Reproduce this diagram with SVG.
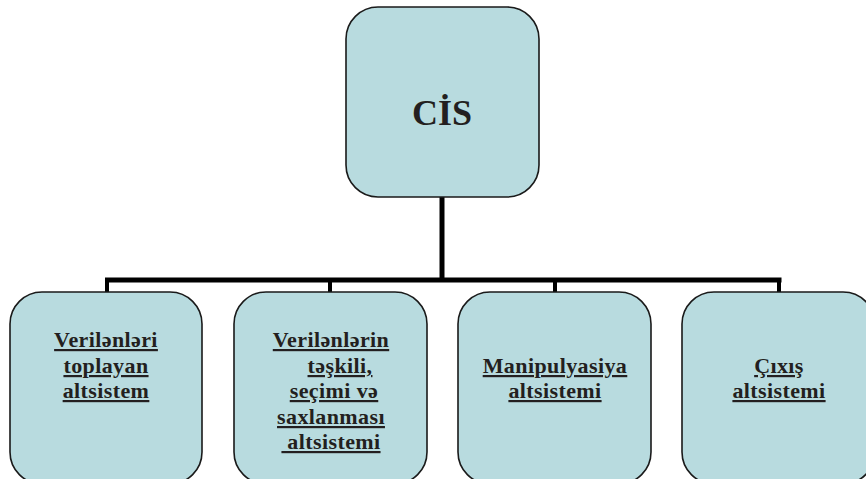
<svg xmlns="http://www.w3.org/2000/svg" width="866" height="479" viewBox="0 0 866 479">
<style>
.box{fill:#b8dbdf;stroke:#1a1a1a;stroke-width:1.6}
.lbl{font-family:"Liberation Serif",serif;font-weight:bold;font-size:22px;fill:#231f20;text-anchor:middle;text-decoration:underline;letter-spacing:0.4px}
.title{font-family:"Liberation Serif",serif;font-weight:bold;font-size:36px;fill:#231f20;text-anchor:middle}
.con{stroke:#000;fill:none}
</style>
<rect width="866" height="479" fill="#fff"/>
<g id="connectors">
<line class="con" x1="442" y1="197" x2="442" y2="282" stroke-width="5"/>
<line class="con" x1="105" y1="280" x2="781.5" y2="280" stroke-width="5"/>
<line class="con" x1="107" y1="280" x2="107" y2="293" stroke-width="4"/>
<line class="con" x1="330" y1="280" x2="330" y2="293" stroke-width="4"/>
<line class="con" x1="555" y1="280" x2="555" y2="293" stroke-width="4"/>
<line class="con" x1="779" y1="280" x2="779" y2="293" stroke-width="4"/>
</g>
<g id="cis">
<rect class="box" x="346" y="7" width="193" height="190" rx="32"/>
<text class="title" x="442" y="125">CİS</text>
</g>
<g id="node1">
<rect class="box" x="10" y="292" width="192" height="192" rx="32"/>
<text class="lbl" x="106" y="347">Verilənləri</text>
<text class="lbl" x="106" y="373">toplayan</text>
<text class="lbl" x="106" y="398">altsistem</text>
</g>
<g id="node2">
<rect class="box" x="234" y="292" width="193" height="192" rx="32"/>
<text class="lbl" x="331" y="347">Verilənlərin</text>
<text class="lbl" x="340" y="373">təşkili,</text>
<text class="lbl" x="334" y="398">seçimi və</text>
<text class="lbl" x="331" y="424">saxlanması</text>
<text class="lbl" x="331" y="449" xml:space="preserve"> altsistemi</text>
</g>
<g id="node3">
<rect class="box" x="458" y="292" width="193" height="192" rx="32"/>
<text class="lbl" x="555" y="373">Manipulyasiya</text>
<text class="lbl" x="555" y="398">altsistemi</text>
</g>
<g id="node4">
<rect class="box" x="682" y="292" width="193" height="192" rx="32"/>
<text class="lbl" x="779" y="373">Çıxış</text>
<text class="lbl" x="779" y="398">altsistemi</text>
</g>
</svg>
